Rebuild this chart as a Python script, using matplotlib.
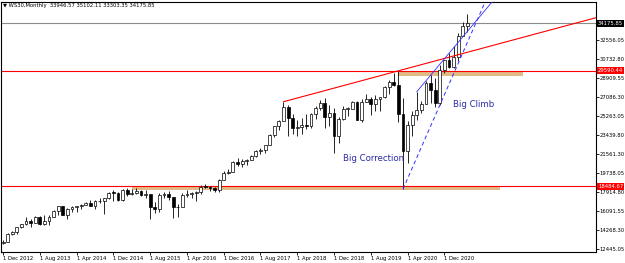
import numpy as np
import matplotlib.pyplot as plt

# monthly WS30 candles, Dec 2012 .. May 2021
opens = [13025, 13104, 13861, 14054, 14580, 14840, 15116, 14910, 15500, 14810, 15130, 15546, 16086,
         16577, 15699, 16322, 16458, 16581, 16717, 16827, 16563, 17098, 17043, 17391, 17828,
         17823, 17165, 18133, 17776, 17841, 18011, 17620, 17690, 16528, 16285, 17664, 17720,
         17425, 16466, 16517, 17685, 17774, 17787, 17930, 18432, 18401, 18308, 18142, 19124,
         19763, 19864, 20812, 20663, 20941, 21009, 21350, 21891, 21948, 22405, 23377, 24272,
         24719, 26149, 25029, 24103, 24163, 24416, 24271, 25415, 25965, 26458, 25116, 25538,
         23327, 24999, 25916, 25929, 26593, 24815, 26600, 26864, 26403, 26917, 27046, 28051,
         28538, 28256, 25409, 21917, 24346, 25383, 25813, 26428, 28430, 27782, 26502, 29639,
         30606, 29983, 30932, 32982, 33946.57]
highs = [13290, 13969, 14150, 14585, 14888, 15542, 15340, 15658, 15628, 15710, 15710, 16174, 16589,
         16588, 16398, 16588, 16631, 16735, 16978, 17152, 17153, 17350, 17395, 17894, 18103,
         17951, 18244, 18289, 18175, 18351, 18137, 18128, 17720, 16933, 17800, 17978, 17997,
         17425, 16795, 17790, 18168, 17935, 18017, 18622, 18668, 18495, 18399, 19152, 19988,
         20125, 20892, 21169, 21070, 21113, 21535, 21929, 22179, 22419, 23485, 24327, 24877,
         26617, 26307, 25450, 24858, 25087, 25403, 25495, 26168, 26770, 26952, 26278, 25981,
         25105, 26242, 26110, 26696, 26680, 26907, 27399, 27085, 27307, 27044, 28175, 28701,
         29374, 29590.44, 26982, 24765, 25759, 27580, 26714, 28630, 29199, 28903, 30116, 30637,
         31272, 32010, 33259, 34257, 35102.11]
lows = [12883, 13104, 13784, 13937, 14434, 14761, 14551, 14910, 14760, 14777, 14719, 15500, 15703,
        15699, 15340, 16016, 16015, 16334, 16675, 16563, 16334, 16902, 15855, 17268, 17067,
        17037, 17037, 17585, 17664, 17715, 17576, 17400, 15370, 15942, 16013, 17400, 17138,
        15451, 15503, 16511, 17484, 17331, 17063, 17713, 18286, 17992, 17888, 17884, 19057,
        19677, 19832, 20413, 20379, 20553, 20996, 21280, 21600, 21709, 22405, 23242, 23922,
        24719, 23360, 23509, 23344, 23532, 24007, 24077, 24965, 25804, 24123, 24268, 21713,
        22638, 24884, 25208, 26000, 24813, 24680, 26590, 25339, 25743, 25743, 27000, 27325,
        28170, 24681, 18214, 20735, 23361, 24843, 25524, 26376, 26537, 26143, 26277, 29413,
        29856, 29904, 30548, 32922, 33303.35]
closes = [13104, 13861, 14054, 14579, 14840, 15116, 14910, 15500, 14810, 15130, 15546, 16086, 16577,
          15699, 16322, 16458, 16581, 16717, 16827, 16563, 17098, 17043, 17391, 17828, 17823,
          17165, 18133, 17776, 17841, 18011, 17620, 17690, 16528, 16285, 17664, 17720, 17425,
          16466, 16517, 17685, 17774, 17787, 17930, 18432, 18401, 18308, 18142, 19124, 19763,
          19864, 20812, 20663, 20941, 21009, 21350, 21891, 21948, 22405, 23377, 24272, 24719,
          26149, 25029, 24103, 24163, 24416, 24271, 25415, 25965, 26458, 25116, 25538, 23327,
          24999, 25916, 25929, 26593, 24815, 26600, 26864, 26403, 26917, 27046, 28051, 28538,
          28256, 25409, 21917, 24346, 25383, 25813, 26428, 28430, 27782, 26502, 29639, 30606,
          29983, 30932, 32982, 33875, 34175.85]

date_labels = ['1 Dec 2012', '1 Aug 2013', '1 Apr 2014', '1 Dec 2014', '1 Aug 2015',
               '1 Apr 2016', '1 Dec 2016', '1 Aug 2017', '1 Apr 2018', '1 Dec 2018',
               '1 Aug 2019', '1 Apr 2020', '1 Dec 2020']
price_ticks = [12445.05, 14268.30, 16091.55, 17914.80, 19738.05, 21561.30,
               23439.80, 25263.05, 27086.30, 28909.55, 30732.80, 32556.05]

last_price = 34175.85
support = 18484.67
resistance = 29590.44

# supply / demand zones (month index from, to, top, bottom)
zone_from = [28, 86]
zone_to = [108, 113]
zone_top = [18484.67, 29590.44]
zone_bottom = [18100, 29130]

o = np.array(opens)
h = np.array(highs)
l = np.array(lows)
c = np.array(closes)
x = np.arange(len(o))

fig = plt.figure(figsize=(6.25, 2.63), dpi=100)
ax = fig.add_axes([0.6 / 625, 11 / 263, 595 / 625, 250.3 / 263])
ax.set_xlim(-0.54, 128.9)
ax.set_ylim(12157, 36241)

fs = 3.8

# zones
for z0, z1, zt, zb in zip(zone_from, zone_to, zone_top, zone_bottom):
    ax.fill_between([z0, z1], zb, zt, color='#E2BA86', lw=0, zorder=1)

# horizontal levels
ax.axhline(last_price, color='#8C8C8C', lw=0.8, zorder=2)
ax.axhline(resistance, color='#FF0000', lw=0.8, zorder=2)
ax.axhline(support, color='#FF0000', lw=0.8, zorder=2)

# candles
up = c >= o
ax.vlines(x, l, h, color='black', lw=0.6, zorder=3)
body_lo = np.minimum(o, c)
body_h = np.maximum(np.abs(c - o), 60)
ax.bar(x, body_h, bottom=body_lo, width=0.62,
       color=np.where(up, 'white', 'black'), edgecolor='black', linewidth=0.5, zorder=4)

# red trendline from Jan 2018 high through Feb 2020 high
i0, i1 = 61, 86
slope = (h[i1] - h[i0]) / (i1 - i0)
xr = 130
ax.plot([i0, xr], [h[i0], h[i0] + slope * (xr - i0)], color='#FF0000', lw=0.8, zorder=5)

# blue climb lines
a0, a1 = 87, 95
sa = (l[a1] - l[a0]) / (a1 - a0)
ax.plot([a0, 112], [l[a0], l[a0] + sa * (112 - a0)], color='#3030FF', lw=0.7,
        ls=(0, (4, 3)), zorder=5)
b0, b1 = 90, 97
sb = (h[b1] - h[b0]) / (b1 - b0)
ax.plot([b0, 112], [h[b0], h[b0] + sb * (112 - b0)], color='#3030FF', lw=0.6, zorder=5)

ax.text(74, 21106, 'Big Correction', color='#2A2AA8', fontsize=6.2, va='center', ha='left')
ax.text(97.9, 26302, 'Big Climb', color='#2A2AA8', fontsize=6.2, va='center', ha='left')

# axes
for s in ax.spines.values():
    s.set_linewidth(0.8)
ax.yaxis.tick_right()
ax.set_yticks(price_ticks)
ax.set_yticklabels(['%.2f' % p for p in price_ticks])
ax.set_xticks(np.arange(0, 97, 8))
ax.set_xticklabels(date_labels, ha='left')
ax.tick_params(axis='both', labelsize=fs, length=2, width=0.6, pad=1)

tr = ax.get_yaxis_transform()
for val, bg in [(last_price, 'black'), (resistance, '#FF0000'), (support, '#FF0000')]:
    ax.text(1.004, val, '%.2f' % val, transform=tr, fontsize=fs, color='white',
            va='center', ha='left', zorder=10,
            bbox=dict(boxstyle='square,pad=0.2', fc=bg, ec='none'))

fig.text(3 / 625, 1 - 6 / 263, '\u25bc WS30,Monthly  33946.57 35102.11 33303.35 34175.85',
         fontsize=fs, va='center', ha='left')

fig.savefig('out.png', dpi=100)
